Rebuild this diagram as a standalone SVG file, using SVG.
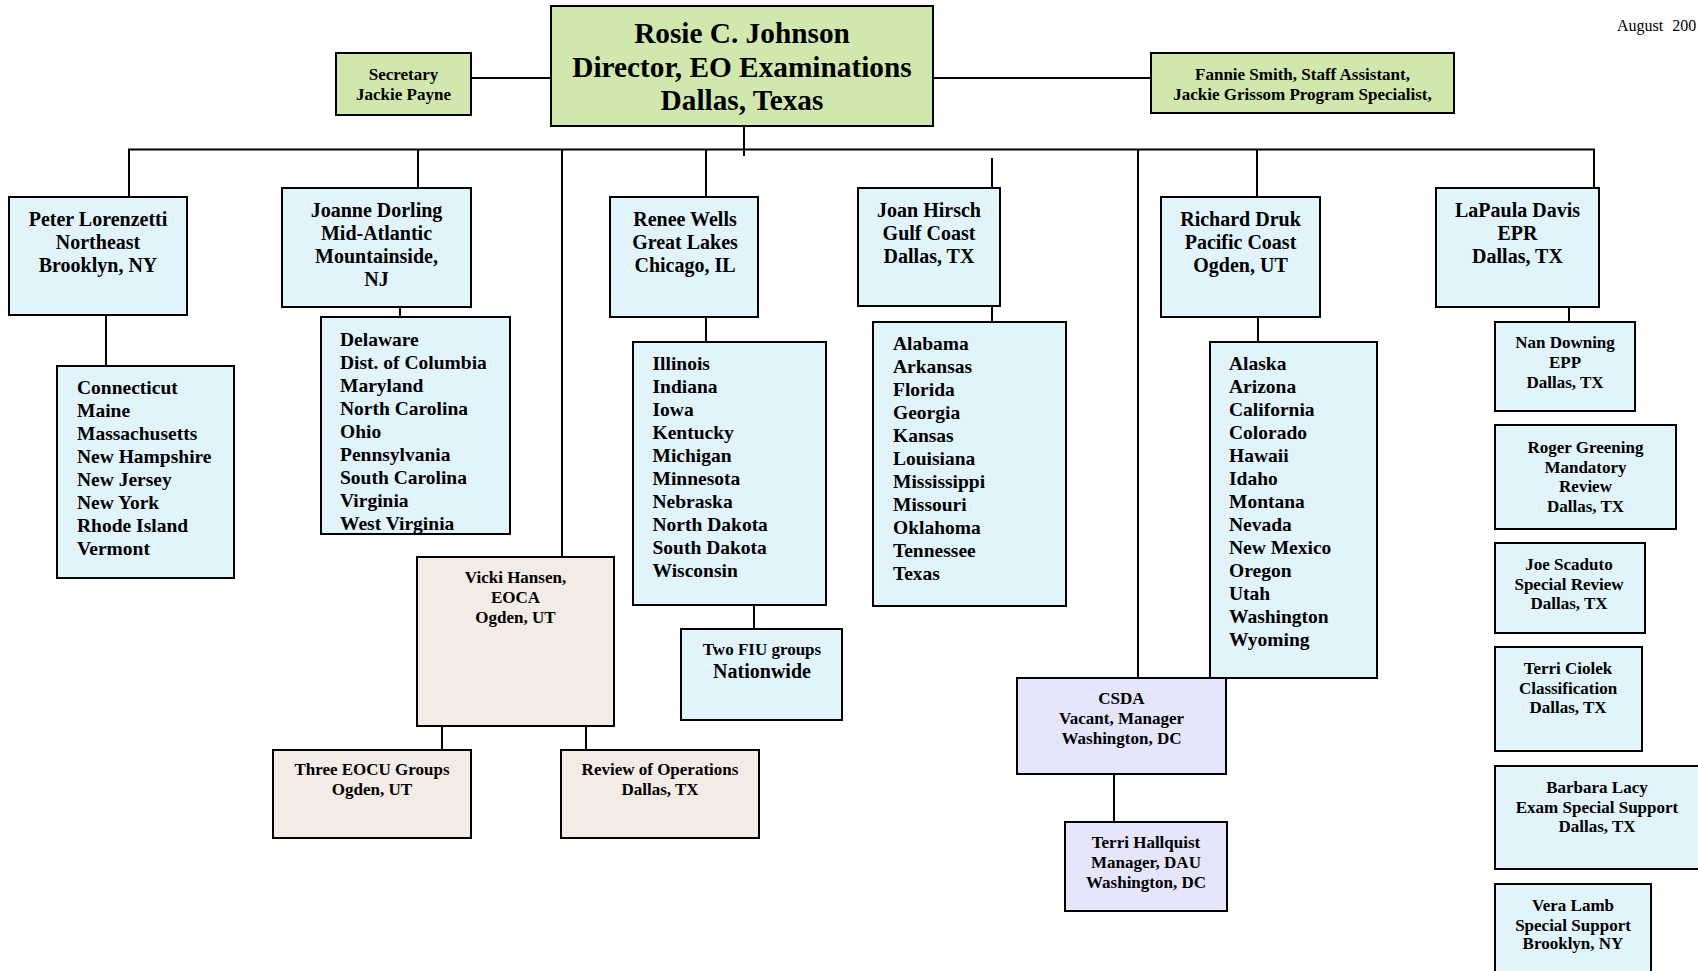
<svg xmlns="http://www.w3.org/2000/svg" width="1698" height="971" viewBox="0 0 1698 971">
<style>
.box{stroke:#000;stroke-width:2}
.g{fill:#d0e8ad}
.b{fill:#e1f4fb}
.p{fill:#f3ebe5}
.l{fill:#e5e5fb}
text{font-family:"Liberation Serif","Times New Roman",serif;font-weight:bold;fill:#000}
.c{text-anchor:middle}
.t{font-size:29.3px}
.m{font-size:20px}
.s{font-size:17px}
.st{font-size:19.5px}
.conn line{stroke:#000;stroke-width:2}
</style>
<rect width="1698" height="971" fill="#fff"/>
<text x="1617" y="31" style="font-weight:normal;font-size:16px;word-spacing:5px">August 200</text>
<g class="conn">
<line x1="471" y1="78" x2="551" y2="78"/>
<line x1="933" y1="78" x2="1151" y2="78"/>
<line x1="744" y1="126" x2="744" y2="156"/>
<line x1="128" y1="149.5" x2="1595" y2="149.5"/>
<line x1="129" y1="149" x2="129" y2="197"/>
<line x1="418" y1="149" x2="418" y2="198"/>
<line x1="562" y1="149" x2="562" y2="557"/>
<line x1="706" y1="149" x2="706" y2="197"/>
<line x1="992" y1="158" x2="992" y2="188"/>
<line x1="1138" y1="149" x2="1138" y2="678"/>
<line x1="1257" y1="149" x2="1257" y2="197"/>
<line x1="1594" y1="149" x2="1594" y2="198"/>
<line x1="106" y1="315" x2="106" y2="366"/>
<line x1="400" y1="307" x2="400" y2="322"/>
<line x1="706" y1="317" x2="706" y2="342"/>
<line x1="992" y1="306" x2="992" y2="322"/>
<line x1="1258" y1="317" x2="1258" y2="342"/>
<line x1="1569" y1="307" x2="1569" y2="322"/>
<line x1="754" y1="605" x2="754" y2="629"/>
<line x1="442" y1="726" x2="442" y2="750"/>
<line x1="586" y1="726" x2="586" y2="750"/>
<line x1="1114" y1="774" x2="1114" y2="822"/>
</g>
<g id="director">
<rect class="box g" x="551" y="6" width="382" height="120"/>
<text class="c t" x="742" y="43">Rosie C. Johnson</text>
<text class="c t" x="742" y="77">Director, EO Examinations</text>
<text class="c t" x="742" y="110">Dallas, Texas</text>
</g>
<g id="secretary">
<rect class="box g" x="336" y="53" width="135" height="62"/>
<text class="c s" x="403.5" y="80">Secretary</text>
<text class="c s" x="403.5" y="100">Jackie Payne</text>
</g>
<g id="staff">
<rect class="box g" x="1151" y="53" width="303" height="60"/>
<text class="c s" x="1302.5" y="80">Fannie Smith, Staff Assistant,</text>
<text class="c s" x="1302.5" y="100">Jackie Grissom Program Specialist,</text>
</g>
<g id="peter">
<rect class="box b" x="9" y="197" width="178" height="118"/>
<text class="c m" x="98" y="226">Peter Lorenzetti</text>
<text class="c m" x="98" y="249">Northeast</text>
<text class="c m" x="98" y="272">Brooklyn, NY</text>
</g>
<g id="joanne">
<rect class="box b" x="282" y="188" width="189" height="119"/>
<text class="c m" x="376.5" y="217">Joanne Dorling</text>
<text class="c m" x="376.5" y="240">Mid-Atlantic</text>
<text class="c m" x="376.5" y="263">Mountainside,</text>
<text class="c m" x="376.5" y="286">NJ</text>
</g>
<g id="renee">
<rect class="box b" x="610" y="197" width="148" height="120"/>
<text class="c m" x="685" y="226">Renee Wells</text>
<text class="c m" x="685" y="249">Great Lakes</text>
<text class="c m" x="685" y="272">Chicago, IL</text>
</g>
<g id="joan">
<rect class="box b" x="858" y="188" width="142" height="118"/>
<text class="c m" x="929" y="217">Joan Hirsch</text>
<text class="c m" x="929" y="240">Gulf Coast</text>
<text class="c m" x="929" y="263">Dallas, TX</text>
</g>
<g id="richard">
<rect class="box b" x="1161" y="197" width="159" height="120"/>
<text class="c m" x="1240.5" y="226">Richard Druk</text>
<text class="c m" x="1240.5" y="249">Pacific Coast</text>
<text class="c m" x="1240.5" y="272">Ogden, UT</text>
</g>
<g id="lapaula">
<rect class="box b" x="1436" y="188" width="163" height="119"/>
<text class="c m" x="1517.5" y="217">LaPaula Davis</text>
<text class="c m" x="1517.5" y="240">EPR</text>
<text class="c m" x="1517.5" y="263">Dallas, TX</text>
</g>
<g id="northeast-states">
<rect class="box b" x="57" y="366" width="177" height="212"/>
<text class="st" x="77" y="394">Connecticut</text>
<text class="st" x="77" y="417">Maine</text>
<text class="st" x="77" y="440">Massachusetts</text>
<text class="st" x="77" y="463">New Hampshire</text>
<text class="st" x="77" y="486">New Jersey</text>
<text class="st" x="77" y="509">New York</text>
<text class="st" x="77" y="532">Rhode Island</text>
<text class="st" x="77" y="555">Vermont</text>
</g>
<g id="midatlantic-states">
<rect class="box b" x="321" y="317" width="189" height="217"/>
<text class="st" x="340" y="346">Delaware</text>
<text class="st" x="340" y="369">Dist. of Columbia</text>
<text class="st" x="340" y="392">Maryland</text>
<text class="st" x="340" y="415">North Carolina</text>
<text class="st" x="340" y="438">Ohio</text>
<text class="st" x="340" y="461">Pennsylvania</text>
<text class="st" x="340" y="484">South Carolina</text>
<text class="st" x="340" y="507">Virginia</text>
<text class="st" x="340" y="530">West Virginia</text>
</g>
<g id="greatlakes-states">
<rect class="box b" x="633" y="342" width="193" height="263"/>
<text class="st" x="652.5" y="370">Illinois</text>
<text class="st" x="652.5" y="393">Indiana</text>
<text class="st" x="652.5" y="416">Iowa</text>
<text class="st" x="652.5" y="439">Kentucky</text>
<text class="st" x="652.5" y="462">Michigan</text>
<text class="st" x="652.5" y="485">Minnesota</text>
<text class="st" x="652.5" y="508">Nebraska</text>
<text class="st" x="652.5" y="531">North Dakota</text>
<text class="st" x="652.5" y="554">South Dakota</text>
<text class="st" x="652.5" y="577">Wisconsin</text>
</g>
<g id="fiu">
<rect class="box b" x="681" y="629" width="161" height="91"/>
<text class="c s" x="762" y="655">Two FIU groups</text>
<text class="c m" x="762" y="678">Nationwide</text>
</g>
<g id="gulf-states">
<rect class="box b" x="873" y="322" width="193" height="284"/>
<text class="st" x="893" y="350">Alabama</text>
<text class="st" x="893" y="373">Arkansas</text>
<text class="st" x="893" y="396">Florida</text>
<text class="st" x="893" y="419">Georgia</text>
<text class="st" x="893" y="442">Kansas</text>
<text class="st" x="893" y="465">Louisiana</text>
<text class="st" x="893" y="488">Mississippi</text>
<text class="st" x="893" y="511">Missouri</text>
<text class="st" x="893" y="534">Oklahoma</text>
<text class="st" x="893" y="557">Tennessee</text>
<text class="st" x="893" y="580">Texas</text>
</g>
<g id="pacific-states">
<rect class="box b" x="1210" y="342" width="167" height="336"/>
<text class="st" x="1229" y="370">Alaska</text>
<text class="st" x="1229" y="393">Arizona</text>
<text class="st" x="1229" y="416">California</text>
<text class="st" x="1229" y="439">Colorado</text>
<text class="st" x="1229" y="462">Hawaii</text>
<text class="st" x="1229" y="485">Idaho</text>
<text class="st" x="1229" y="508">Montana</text>
<text class="st" x="1229" y="531">Nevada</text>
<text class="st" x="1229" y="554">New Mexico</text>
<text class="st" x="1229" y="577">Oregon</text>
<text class="st" x="1229" y="600">Utah</text>
<text class="st" x="1229" y="623">Washington</text>
<text class="st" x="1229" y="646">Wyoming</text>
</g>
<g id="vicki">
<rect class="box p" x="417" y="557" width="197" height="169"/>
<text class="c s" x="515.5" y="583">Vicki Hansen,</text>
<text class="c s" x="515.5" y="603">EOCA</text>
<text class="c s" x="515.5" y="623">Ogden, UT</text>
</g>
<g id="eocu">
<rect class="box p" x="273" y="750" width="198" height="88"/>
<text class="c s" x="372" y="775">Three EOCU Groups</text>
<text class="c s" x="372" y="795">Ogden, UT</text>
</g>
<g id="review-ops">
<rect class="box p" x="561" y="750" width="198" height="88"/>
<text class="c s" x="660" y="775">Review of Operations</text>
<text class="c s" x="660" y="795">Dallas, TX</text>
</g>
<g id="csda">
<rect class="box l" x="1017" y="678" width="209" height="96"/>
<text class="c s" x="1121.5" y="704">CSDA</text>
<text class="c s" x="1121.5" y="724">Vacant, Manager</text>
<text class="c s" x="1121.5" y="744">Washington, DC</text>
</g>
<g id="hallquist">
<rect class="box l" x="1065" y="822" width="162" height="89"/>
<text class="c s" x="1146" y="848">Terri Hallquist</text>
<text class="c s" x="1146" y="868">Manager, DAU</text>
<text class="c s" x="1146" y="888">Washington, DC</text>
</g>
<g id="nan">
<rect class="box b" x="1495" y="322" width="140" height="89"/>
<text class="c s" x="1565" y="348">Nan Downing</text>
<text class="c s" x="1565" y="368">EPP</text>
<text class="c s" x="1565" y="388">Dallas, TX</text>
</g>
<g id="roger">
<rect class="box b" x="1495" y="425" width="181" height="104"/>
<text class="c s" x="1585.5" y="453">Roger Greening</text>
<text class="c s" x="1585.5" y="473">Mandatory</text>
<text class="c s" x="1585.5" y="492">Review</text>
<text class="c s" x="1585.5" y="512">Dallas, TX</text>
</g>
<g id="joe">
<rect class="box b" x="1495" y="543" width="150" height="90"/>
<text class="c s" x="1569" y="570">Joe Scaduto</text>
<text class="c s" x="1569" y="590">Special Review</text>
<text class="c s" x="1569" y="609">Dallas, TX</text>
</g>
<g id="terri-ciolek">
<rect class="box b" x="1495" y="647" width="147" height="104"/>
<text class="c s" x="1568" y="674">Terri Ciolek</text>
<text class="c s" x="1568" y="694">Classification</text>
<text class="c s" x="1568" y="713">Dallas, TX</text>
</g>
<g id="barbara">
<rect class="box b" x="1495" y="766" width="215" height="103"/>
<text class="c s" x="1597" y="793">Barbara Lacy</text>
<text class="c s" x="1597" y="813">Exam Special Support</text>
<text class="c s" x="1597" y="832">Dallas, TX</text>
</g>
<g id="vera">
<rect class="box b" x="1495" y="884" width="156" height="100"/>
<text class="c s" x="1573" y="911">Vera Lamb</text>
<text class="c s" x="1573" y="931">Special Support</text>
<text class="c s" x="1573" y="949">Brooklyn, NY</text>
</g>
</svg>
